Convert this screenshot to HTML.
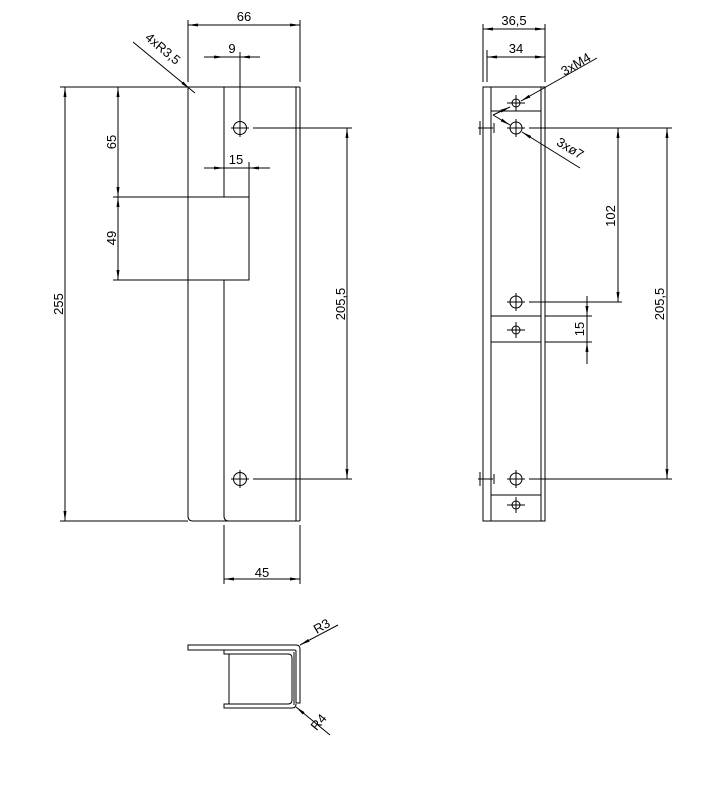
<!DOCTYPE html>
<html><head><meta charset="utf-8"><style>
html,body{margin:0;padding:0;background:#fff;}
svg{display:block;}
text{font-family:"Liberation Sans",sans-serif;font-size:13px;fill:#000;}
</style></head><body>
<svg width="701" height="794" viewBox="0 0 701 794" xmlns="http://www.w3.org/2000/svg">
<defs>
<marker id="a" markerWidth="10" markerHeight="6" refX="10" refY="3" orient="auto-start-reverse" markerUnits="userSpaceOnUse"><path d="M0,1.5 L10,3 L0,4.5Z" fill="#000"/></marker>
</defs>
<g stroke="#000" stroke-width="1" fill="none">
<!-- FRONT VIEW -->
<path d="M188,87 V516 Q188,521 193,521 H300"/>
<path d="M224,87 V197 H249 V280 H224 V516 Q224,521 229,521"/>
<line x1="296" y1="87" x2="296" y2="521"/>
<line x1="300" y1="87" x2="300" y2="521"/>
<line x1="60" y1="87" x2="300" y2="87"/>
<line x1="60" y1="521" x2="188" y2="521"/>
<line x1="113" y1="197" x2="224" y2="197"/>
<line x1="113" y1="280" x2="224" y2="280"/>
<circle cx="240" cy="128" r="6.5"/><line x1="231" y1="128" x2="249" y2="128"/><line x1="240" y1="119" x2="240" y2="137"/>
<circle cx="240" cy="479" r="6.5"/><line x1="231" y1="479" x2="249" y2="479"/><line x1="240" y1="470" x2="240" y2="488"/>
<!-- dims front -->
<line x1="188" y1="20" x2="188" y2="82"/><line x1="300" y1="20" x2="300" y2="82"/>
<line x1="188" y1="25" x2="300" y2="25" marker-start="url(#a)" marker-end="url(#a)"/>
<line x1="240" y1="52" x2="240" y2="120"/>
<line x1="204" y1="57" x2="224" y2="57" marker-end="url(#a)"/>
<line x1="260" y1="57" x2="240" y2="57" marker-end="url(#a)"/>
<line x1="224" y1="57" x2="240" y2="57"/>
<line x1="249" y1="162" x2="249" y2="197"/>
<line x1="204" y1="168" x2="224" y2="168" marker-end="url(#a)"/>
<line x1="270" y1="168" x2="249" y2="168" marker-end="url(#a)"/>
<line x1="224" y1="168" x2="249" y2="168"/>
<line x1="118" y1="87" x2="118" y2="197" marker-start="url(#a)" marker-end="url(#a)"/>
<line x1="118" y1="197" x2="118" y2="280" marker-start="url(#a)" marker-end="url(#a)"/>
<line x1="65" y1="87" x2="65" y2="521" marker-start="url(#a)" marker-end="url(#a)"/>
<line x1="253" y1="128" x2="352" y2="128"/>
<line x1="253" y1="479" x2="352" y2="479"/>
<line x1="347" y1="128" x2="347" y2="479" marker-start="url(#a)" marker-end="url(#a)"/>
<line x1="224" y1="525" x2="224" y2="584"/><line x1="300" y1="525" x2="300" y2="584"/>
<line x1="224" y1="579" x2="300" y2="579" marker-start="url(#a)" marker-end="url(#a)"/>
<line x1="133" y1="42" x2="190" y2="89" marker-end="url(#a)"/>
<line x1="190" y1="89" x2="195" y2="93"/>
<!-- SIDE VIEW -->
<rect x="483" y="87" width="62" height="434"/>
<line x1="491" y1="87" x2="491" y2="521"/>
<line x1="541" y1="87" x2="541" y2="521"/>
<line x1="491" y1="111" x2="541" y2="111"/>
<line x1="491" y1="316" x2="541" y2="316"/>
<line x1="491" y1="342" x2="541" y2="342"/>
<line x1="491" y1="495" x2="541" y2="495"/>
<circle cx="516" cy="128" r="6"/><line x1="507" y1="128" x2="525" y2="128"/><line x1="516" y1="119" x2="516" y2="137"/>
<circle cx="516" cy="302" r="6"/><line x1="507" y1="302" x2="525" y2="302"/><line x1="516" y1="293" x2="516" y2="311"/>
<circle cx="516" cy="479" r="6"/><line x1="507" y1="479" x2="525" y2="479"/><line x1="516" y1="470" x2="516" y2="488"/>
<circle cx="516" cy="103" r="4"/><line x1="507" y1="103" x2="525" y2="103"/><line x1="516" y1="95" x2="516" y2="111"/>
<circle cx="516" cy="330" r="4"/><line x1="507" y1="330" x2="525" y2="330"/><line x1="516" y1="322" x2="516" y2="338"/>
<circle cx="516" cy="505" r="4"/><line x1="507" y1="505" x2="525" y2="505"/><line x1="516" y1="497" x2="516" y2="513"/>
<line x1="478" y1="128" x2="493" y2="128"/><line x1="480" y1="121" x2="480" y2="135"/><line x1="494" y1="123" x2="494" y2="133"/>
<line x1="478" y1="479" x2="493" y2="479"/><line x1="480" y1="472" x2="480" y2="486"/><line x1="494" y1="474" x2="494" y2="484"/>
<!-- side dims -->
<line x1="483" y1="24" x2="483" y2="82"/><line x1="545" y1="24" x2="545" y2="82"/><line x1="487" y1="50" x2="487" y2="82"/>
<line x1="483" y1="29" x2="545" y2="29" marker-start="url(#a)" marker-end="url(#a)"/>
<line x1="487" y1="57" x2="545" y2="57" marker-start="url(#a)" marker-end="url(#a)"/>
<line x1="529" y1="128" x2="672" y2="128"/>
<line x1="529" y1="302" x2="622" y2="302"/>
<line x1="545" y1="316" x2="592" y2="316"/>
<line x1="545" y1="342" x2="592" y2="342"/>
<line x1="529" y1="479" x2="672" y2="479"/>
<line x1="618" y1="128" x2="618" y2="302" marker-start="url(#a)" marker-end="url(#a)"/>
<line x1="667" y1="128" x2="667" y2="479" marker-start="url(#a)" marker-end="url(#a)"/>
<line x1="587" y1="296" x2="587" y2="316" marker-end="url(#a)"/>
<line x1="587" y1="364" x2="587" y2="342" marker-end="url(#a)"/>
<line x1="587" y1="316" x2="587" y2="342"/>
<line x1="597" y1="58" x2="521" y2="101" marker-end="url(#a)"/>
<line x1="510" y1="107" x2="493" y2="115" marker-start="url(#a)"/>
<line x1="493" y1="115" x2="510" y2="125" marker-end="url(#a)"/>
<line x1="522" y1="132" x2="580" y2="168" marker-start="url(#a)"/>
<!-- SECTION -->
<path d="M188,645 H296 Q300,645 300,649 V703 H296 V651 Q296,650 294,650 H188 Z"/>
<path d="M224,650 V654 H288 Q292,654 292,658 V700 Q292,704 288,704 H224 V708 H292 Q296,708 296,704"/>
<line x1="229" y1="654" x2="229" y2="704"/>
<line x1="294" y1="652" x2="294" y2="705"/>
<line x1="338" y1="625" x2="300" y2="645" marker-end="url(#a)"/>
<line x1="330" y1="735" x2="296" y2="707" marker-end="url(#a)"/>
</g>
<text x="244" y="21" text-anchor="middle">66</text>
<text x="232" y="53" text-anchor="middle">9</text>
<text x="236" y="164" text-anchor="middle">15</text>
<text x="262" y="577" text-anchor="middle">45</text>
<text transform="translate(116,142) rotate(-90)" text-anchor="middle">65</text>
<text transform="translate(116,238) rotate(-90)" text-anchor="middle">49</text>
<text transform="translate(63,304) rotate(-90)" text-anchor="middle">255</text>
<text transform="translate(345,304) rotate(-90)" text-anchor="middle">205,5</text>
<text transform="translate(160,52) rotate(40)" text-anchor="middle">4xR3,5</text>
<text x="514" y="25" text-anchor="middle">36,5</text>
<text x="516" y="53" text-anchor="middle">34</text>
<text transform="translate(578,68) rotate(-30)" text-anchor="middle">3xM4</text>
<text transform="translate(568,152) rotate(31)" text-anchor="middle">3xø7</text>
<text transform="translate(615,216) rotate(-90)" text-anchor="middle">102</text>
<text transform="translate(664,304) rotate(-90)" text-anchor="middle">205,5</text>
<text transform="translate(584,329) rotate(-90)" text-anchor="middle">15</text>
<text transform="translate(324,630) rotate(-30)" text-anchor="middle">R3</text>
<text transform="translate(322,725) rotate(-50)" text-anchor="middle">R4</text>
</svg>
</body></html>
